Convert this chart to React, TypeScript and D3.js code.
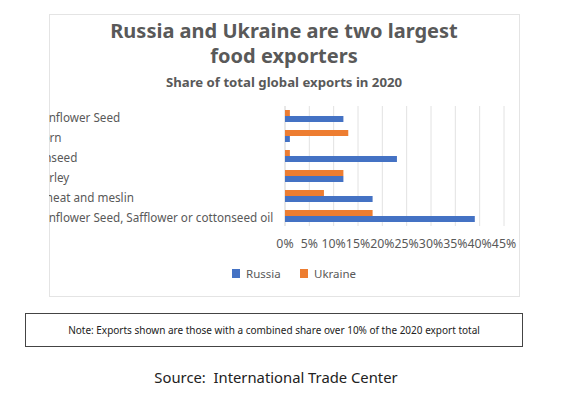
import React from "react";
import { scaleLinear, scaleBand } from "d3";

const categories = [
  "Sunflower Seed",
  "Corn",
  "Linseed",
  "Barley",
  "Wheat and meslin",
  "Sunflower Seed, Safflower or cottonseed oil",
];
const russia = [12, 1, 23, 12, 18, 39];
const ukraine = [1, 13, 1, 12, 8, 18];
const xTicks = [0, 5, 10, 15, 20, 25, 30, 35, 40, 45];
const seriesNames = ["Russia", "Ukraine"];
const colors = ["#4472C4", "#ED7D31"];

const font = "'Noto Sans', sans-serif";
const textColor = "#595959";

export default function App() {
  // chart frame and plot area, in page coordinates
  const frame = { x: 49, y: 14, w: 470, h: 282 };
  const plot = { left: 285, right: 504, top: 106, bottom: 226 };

  const x = scaleLinear().domain([0, 45]).range([plot.left, plot.right]);
  const y = scaleBand<string>()
    .domain(categories)
    .range([plot.top, plot.bottom])
    .paddingInner(0.4)
    .paddingOuter(0.2);
  const inner = scaleBand<string>()
    .domain(["Ukraine", "Russia"])
    .range([0, y.bandwidth()]);

  return (
    <svg width={573} height={389} style={{ display: "block" }} fontFamily={font}>
      <defs>
        <clipPath id="frameClip">
          <rect x={frame.x} y={frame.y} width={frame.w} height={frame.h} />
        </clipPath>
      </defs>
      <rect x={0} y={0} width={573} height={389} fill="#fff" />
      <g transform="translate(-8,-8)">
        <rect
          x={frame.x + 0.5}
          y={frame.y + 0.5}
          width={frame.w}
          height={frame.h}
          fill="#fff"
          stroke="#e4e4e4"
        />
        <text x={284} y={38} textAnchor="middle" fontSize={20} fontWeight="bold" fill={textColor}>
          Russia and Ukraine are two largest
        </text>
        <text x={284} y={63} textAnchor="middle" fontSize={20} fontWeight="bold" fill={textColor}>
          food exporters
        </text>
        <text x={284} y={87} textAnchor="middle" fontSize={13.2} fontWeight="bold" fill={textColor}>
          Share of total global exports in 2020
        </text>

        {/* gridlines */}
        {xTicks.map((t) => (
          <line
            key={t}
            x1={x(t)}
            x2={x(t)}
            y1={plot.top}
            y2={plot.bottom}
            stroke={t === 0 ? "#d0d0d0" : "#e2e2e2"}
          />
        ))}
        {xTicks.map((t) => (
          <text key={"l" + t} x={x(t)} y={248} textAnchor="middle" fontSize={12.3} fill={textColor}>
            {t}%
          </text>
        ))}

        {/* bars */}
        {categories.map((c, i) => (
          <g key={c}>
            <rect
              x={x(0)}
              y={(y(c) ?? 0) + (inner("Ukraine") ?? 0)}
              width={x(ukraine[i]) - x(0)}
              height={inner.bandwidth()}
              fill={colors[1]}
            />
            <rect
              x={x(0)}
              y={(y(c) ?? 0) + (inner("Russia") ?? 0)}
              width={x(russia[i]) - x(0)}
              height={inner.bandwidth()}
              fill={colors[0]}
            />
          </g>
        ))}

        {/* category labels, left aligned and clipped by the frame */}
        <g clipPath="url(#frameClip)">
          {categories.map((c) => (
            <text
              key={"c" + c}
              x={35}
              y={(y(c) ?? 0) + y.bandwidth() / 2 + 6}
              fontSize={11.7}
              fill={textColor}
            >
              {c}
            </text>
          ))}
        </g>

        {/* legend */}
        {seriesNames.map((s, i) => (
          <g key={s} transform={`translate(${232 + i * 68},269)`}>
            <rect x={0} y={0} width={8} height={9} fill={colors[i]} />
            <text x={14} y={9} fontSize={11.5} fill={textColor}>
              {s}
            </text>
          </g>
        ))}

        {/* note box */}
        <rect x={25.5} y={313.5} width={497} height={33} fill="#fff" stroke="#444" strokeWidth={1} />
        <text x={274} y={334} textAnchor="middle" fontSize={10} fill="#222">
          Note: Exports shown are those with a combined share over 10% of the 2020 export total
        </text>

        <text x={276} y={383} textAnchor="middle" fontSize={14.8} fill="#222">
          {"Source:\u00a0 International Trade Center"}
        </text>
      </g>
    </svg>
  );
}
